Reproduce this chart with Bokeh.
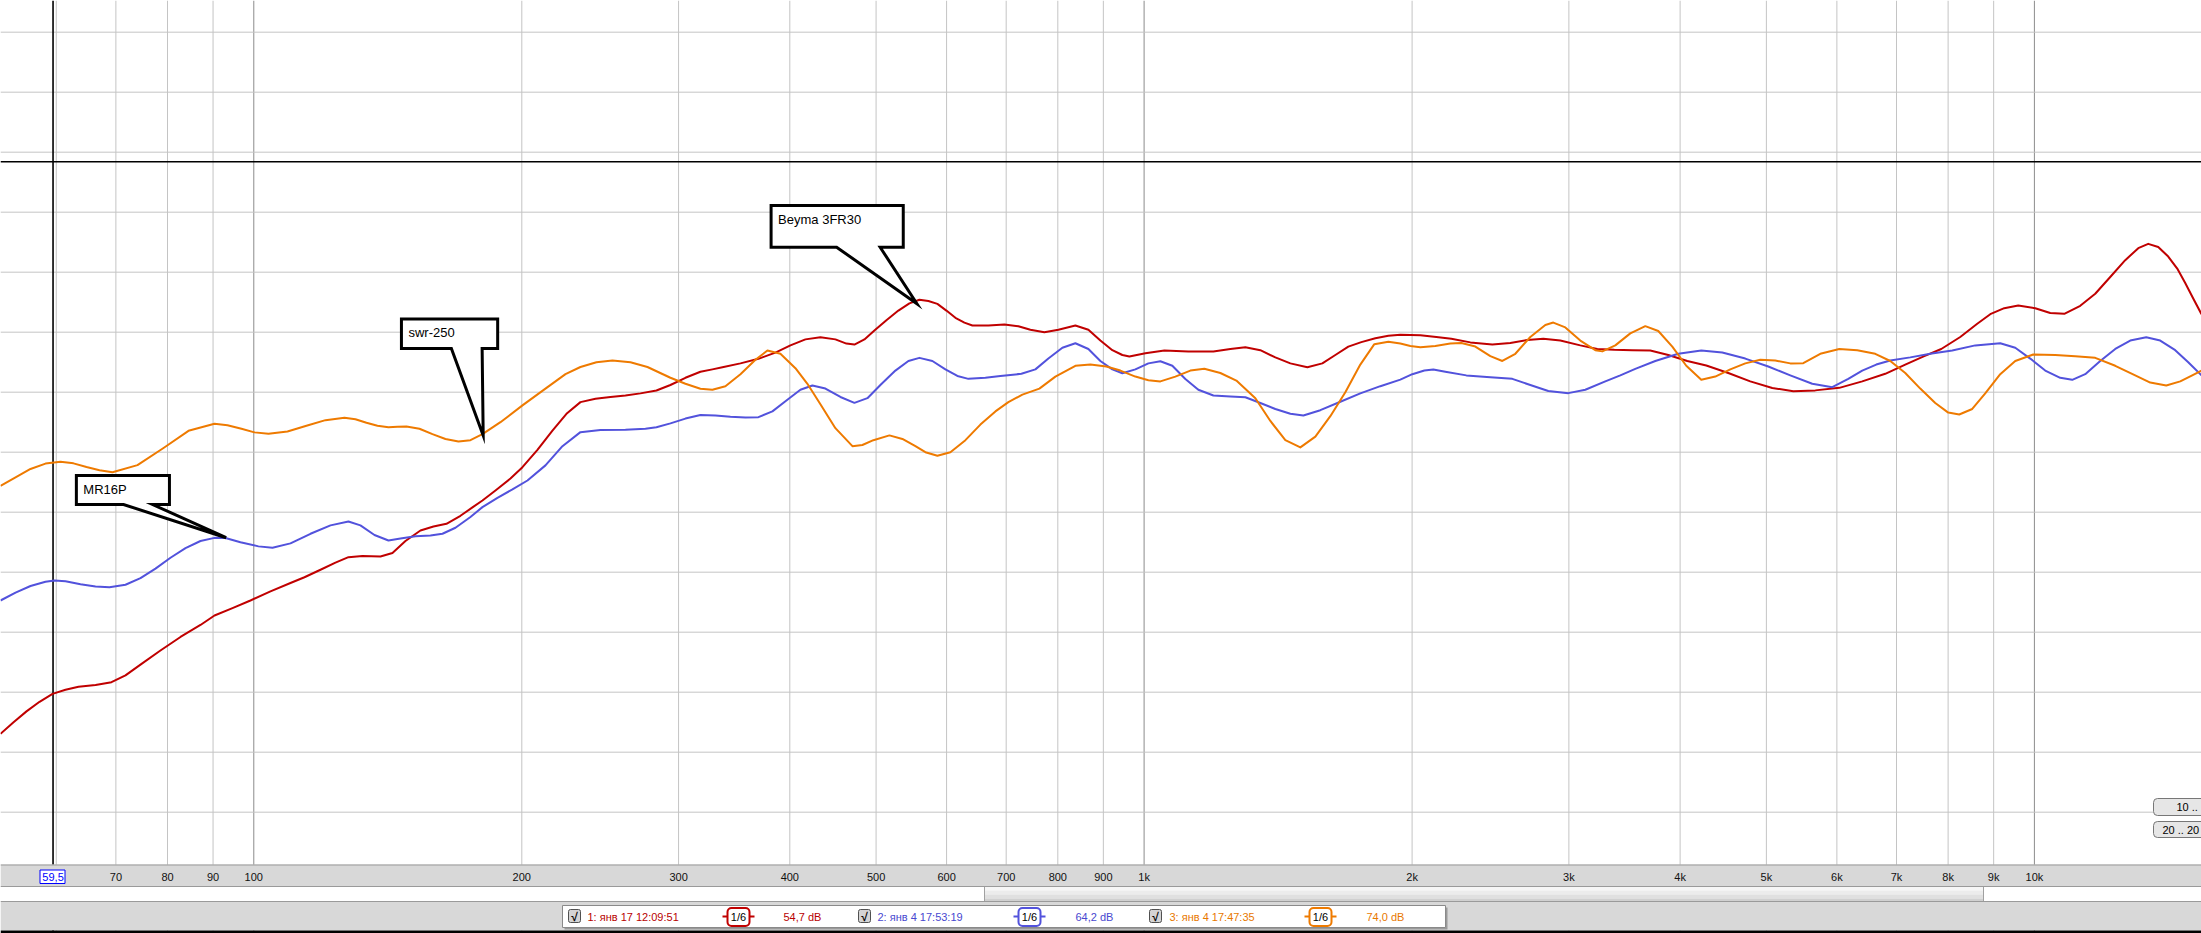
from bokeh.plotting import figure
from bokeh.models import Range1d, LinearScale, Span
from bokeh.embed import file_html
from bokeh.resources import INLINE
from bokeh.core.properties import value

# ---------------- data (frequency in Hz, level in dB) ----------------
red_f = [51.94, 53.72, 55.55, 57.46, 59.42, 61.45, 63.55, 66.41, 69.21, 71.76, 74.60, 78.55, 82.73, 87.12,
         90.34, 94.64, 99.14, 104.41, 109.95, 114.0, 118.83, 123.52, 127.74, 132.45, 138.76, 143.14, 148.03,
         153.89, 159.15, 164.59, 170.66, 176.04, 180.65, 186.83, 194.22, 200.34, 208.26, 216.50, 224.49,
         232.76, 241.97, 251.53, 261.48, 271.83, 283.30, 293.75, 305.36, 317.44, 327.44, 336.03, 352.06,
         368.81, 385.38, 400.64, 416.48, 432.95, 450.07, 463.06, 472.74, 485.14, 497.82, 513.51, 529.70,
         544.98, 559.28, 572.43, 585.91, 599.71, 613.84, 628.32, 641.42, 668.56, 696.76, 722.45, 745.22,
         772.70, 801.16, 837.17, 865.85, 893.08, 921.22, 945.37, 962.65, 1003.4, 1053.9, 1121.3, 1196.3,
         1250.0, 1299.4, 1350.8, 1404.2, 1459.8, 1525.4, 1585.7, 1639.9, 1695.9, 1753.9, 1818.6, 1880.9,
         1940.1, 2043.1, 2129.3, 2213.5, 2325.1, 2461.2, 2578.4, 2694.3, 2808.2, 2934.3, 3090.0, 3228.9,
         3374.1, 3534.7, 3703.1, 3879.7, 4074.9, 4280.1, 4530.7, 4795.9, 5076.7, 5360.2, 5674.0, 6037.4,
         6406.9, 6799.5, 7160.6, 7521.1, 7859.4, 8254.8, 8625.8, 8921.1, 9249.7, 9590.9, 10022, 10418,
         10803, 11259, 11704, 12167, 12648, 13082, 13423, 13775, 14136, 14469, 14771, 15080, 15406]
red_db = [36.53, 37.5, 38.4, 39.2, 39.86, 40.2, 40.45, 40.6, 40.83, 41.4, 42.3, 43.47, 44.6, 45.6,
          46.39, 47.0, 47.64, 48.4, 49.1, 49.58, 50.2, 50.8, 51.25, 51.35, 51.3, 51.6, 52.6,
          53.47, 53.8, 54.03, 54.7, 55.4, 55.97, 56.8, 57.8, 58.75, 60.2, 61.8, 63.2,
          64.17, 64.45, 64.6, 64.72, 64.9, 65.14, 65.6, 66.2, 66.7, 66.9, 67.08, 67.4,
          67.78, 68.3, 68.9, 69.4, 69.58, 69.4, 69.05, 68.97, 69.4, 70.14, 71.0, 71.8,
          72.4, 72.7, 72.6, 72.36, 71.8, 71.2, 70.8, 70.56, 70.55, 70.64, 70.5, 70.2,
          70.0, 70.2, 70.56, 70.2, 69.3, 68.5, 68.1, 67.97, 68.25, 68.47, 68.4, 68.39,
          68.6, 68.75, 68.5, 67.9, 67.4, 67.08, 67.4, 68.1, 68.8, 69.17, 69.5, 69.7,
          69.78, 69.75, 69.6, 69.45, 69.15, 68.97, 69.1, 69.35, 69.45, 69.3, 68.9, 68.6,
          68.53, 68.5, 68.47, 68.1, 67.6, 67.22, 66.6, 65.9, 65.35, 65.08, 65.15, 65.36,
          65.9, 66.53, 67.3, 68.0, 68.6, 69.6, 70.7, 71.5, 72.0, 72.22, 72.0, 71.6,
          71.53, 72.2, 73.2, 74.6, 76.0, 77.0, 77.36, 77.1, 76.3, 75.3, 74.1, 72.8, 71.5]

blue_f = [51.94, 54.0, 56.13, 58.35, 59.73, 61.45, 63.88, 66.41, 68.85, 71.76, 74.60, 77.55, 80.62, 83.81,
          87.12, 90.34, 92.94, 96.61, 101.21, 104.95, 109.95, 115.79, 121.94, 127.74, 131.76, 136.63, 141.67,
          146.13, 151.92, 157.92, 162.90, 168.47, 175.13, 180.65, 187.80, 195.22, 202.95, 212.62, 222.17,
          232.76, 245.11, 261.48, 275.36, 283.30, 293.75, 305.36, 317.44, 330.01, 343.05, 356.63, 368.81,
          382.40, 396.50, 411.12, 424.07, 438.58, 455.95, 472.74, 488.91, 505.61, 525.62, 543.58, 559.28,
          578.39, 598.17, 617.01, 634.83, 663.34, 689.58, 728.07, 754.90, 780.71, 809.49, 837.17, 865.85,
          893.08, 921.22, 945.37, 977.68, 1011.2, 1043.0, 1075.8, 1112.6, 1150.6, 1196.3, 1250.0, 1299.4,
          1350.8, 1404.2, 1459.8, 1509.7, 1577.5, 1661.3, 1749.3, 1842.3, 1940.1, 2001.2, 2064.3, 2112.9,
          2179.5, 2301.2, 2448.6, 2591.8, 2715.3, 2844.6, 2995.7, 3130.2, 3296.4, 3426.8, 3562.2, 3751.4,
          3981.2, 4225.1, 4461.0, 4734.4, 5024.6, 5318.8, 5629.9, 5928.8, 6179.2, 6406.9, 6643.2, 6888.4,
          7253.6, 7638.9, 8085.9, 8581.3, 9154.4, 9517.0, 9893.0, 10284, 10691, 11028, 11405, 11856,
          12326, 12813, 13354, 13846, 14394, 14887, 15406]
blue_db = [47.64, 48.3, 48.85, 49.2, 49.3, 49.25, 49.0, 48.8, 48.75, 48.95, 49.5, 50.3, 51.2, 52.0,
           52.6, 52.86, 52.85, 52.5, 52.15, 52.03, 52.4, 53.2, 53.9, 54.22, 53.9, 53.1, 52.64,
           52.8, 53.0, 53.05, 53.2, 53.7, 54.6, 55.42, 56.2, 56.9, 57.64, 58.9, 60.5,
           61.67, 61.85, 61.86, 61.95, 62.08, 62.4, 62.8, 63.1, 63.05, 62.95, 62.9, 62.92,
           63.4, 64.3, 65.2, 65.56, 65.3, 64.6, 64.11, 64.5, 65.6, 66.8, 67.6, 67.86,
           67.6, 66.9, 66.35, 66.11, 66.2, 66.35, 66.53, 66.9, 67.8, 68.7, 69.08, 68.6,
           67.6, 66.9, 66.58, 66.9, 67.4, 67.58, 67.2, 66.1, 65.2, 64.72, 64.65, 64.58,
           64.1, 63.6, 63.2, 63.06, 63.5, 64.2, 64.9, 65.5, 66.05, 66.5, 66.8, 66.89,
           66.7, 66.4, 66.25, 66.11, 65.6, 65.1, 64.92, 65.2, 65.9, 66.4, 66.94, 67.6,
           68.2, 68.47, 68.3, 67.8, 67.14, 66.4, 65.7, 65.42, 66.1, 66.8, 67.3, 67.64,
           67.9, 68.2, 68.47, 68.9, 69.08, 68.7, 67.8, 66.8, 66.2, 66.03, 66.5, 67.6,
           68.6, 69.3, 69.58, 69.3, 68.5, 67.5, 66.4]

orange_f = [51.94, 54.0, 56.13, 58.35, 60.66, 62.73, 64.88, 67.10, 69.39, 74.02, 79.18, 84.46, 90.34, 93.42,
            96.86, 100.17, 103.88, 109.10, 114.59, 120.37, 126.43, 130.07, 133.83, 137.69, 141.67, 145.0,
            148.42, 153.49, 158.74, 164.17, 169.78, 175.13, 180.65, 189.26, 200.34, 212.62, 223.92, 232.76,
            242.59, 252.83, 264.89, 276.79, 293.75, 305.36, 317.44, 327.44, 338.64, 352.06, 365.97, 377.50,
            390.40, 405.85, 418.63, 432.95, 450.07, 470.30, 482.61, 496.53, 517.55, 535.21, 553.54, 568.01,
            585.91, 605.94, 629.94, 654.83, 680.73, 703.99, 729.95, 762.79, 794.99, 837.17, 870.32, 907.05,
            940.51, 977.68, 1011.2, 1043.0, 1084.2, 1127.1, 1168.6, 1218.1, 1269.5, 1333.5, 1386.2, 1441.0,
            1498.0, 1557.3, 1618.8, 1682.8, 1749.3, 1813.9, 1880.9, 1940.1, 1990.9, 2043.1, 2123.8, 2207.8,
            2271.5, 2355.3, 2448.6, 2525.6, 2612.1, 2715.3, 2822.7, 2881.7, 2972.6, 3090.0, 3212.3, 3270.9,
            3382.9, 3516.5, 3655.6, 3780.5, 3919.9, 4064.4, 4225.1, 4381.2, 4554.3, 4734.4, 4921.5, 5116.2,
            5318.8, 5500.4, 5747.7, 6037.4, 6324.7, 6626.0, 6888.4, 7160.6, 7443.9, 7738.1, 8002.6, 8233.5,
            8515.1, 8806.0, 9154.4, 9517.0, 9969.9, 10554, 11114, 11704, 12326, 12979, 13493, 14064,
            14582, 15041, 15406]
orange_db = [57.2, 57.9, 58.6, 59.05, 59.2, 59.07, 58.77, 58.5, 58.33, 58.92, 60.35, 61.78, 62.37, 62.25,
             61.95, 61.65, 61.53, 61.73, 62.2, 62.67, 62.87, 62.75, 62.45, 62.2, 62.08, 62.12,
             62.14, 61.95, 61.5, 61.1, 60.89, 61.0, 61.5, 62.5, 63.9, 65.3, 66.5, 67.1,
             67.5, 67.64, 67.5, 67.1, 66.2, 65.7, 65.28, 65.2, 65.5, 66.5, 67.7, 68.47,
             68.2, 67.0, 65.7, 64.0, 62.0, 60.5, 60.6, 61.0, 61.4, 61.1, 60.5, 60.0,
             59.7, 60.0, 61.0, 62.3, 63.4, 64.17, 64.8, 65.3, 66.3, 67.2, 67.3, 67.14,
             66.8, 66.3, 66.0, 65.9, 66.3, 66.8, 66.95, 66.6, 65.97, 64.5, 62.6, 61.0,
             60.4, 61.3, 63.0, 65.0, 67.3, 69.0, 69.2, 69.05, 68.85, 68.75, 68.85, 69.05,
             69.1, 68.8, 68.0, 67.6, 68.2, 69.6, 70.6, 70.8, 70.4, 69.3, 68.5, 68.4,
             68.9, 69.9, 70.5, 70.1, 68.8, 67.2, 66.03, 66.3, 66.9, 67.4, 67.7, 67.64,
             67.4, 67.42, 68.2, 68.6, 68.5, 68.2, 67.6, 66.6, 65.3, 64.1, 63.3, 63.14,
             63.6, 64.9, 66.5, 67.6, 68.14, 68.1, 68.0, 67.86, 67.2, 66.4, 65.8, 65.56,
             65.9, 66.4, 66.8]

series_names = ["1: янв 17 12:09:51", "2: янв 4 17:53:19", "3: янв 4 17:47:35"]
series_levels = ["54,7 dB", "64,2 dB", "74,0 dB"]
smoothing = ["1/6", "1/6", "1/6"]

tick_f = [70, 80, 90, 100, 200, 300, 400, 500, 600, 700, 800, 900,
          1000, 2000, 3000, 4000, 5000, 6000, 7000, 8000, 9000, 10000]
tick_labels = ["70", "80", "90", "100", "200", "300", "400", "500", "600", "700", "800", "900",
               "1k", "2k", "3k", "4k", "5k", "6k", "7k", "8k", "9k", "10k"]
grid_f = [60, 70, 80, 90, 200, 300, 400, 500, 600, 700, 800, 900,
          2000, 3000, 4000, 5000, 6000, 7000, 8000, 9000]
decade_f = [100, 1000, 10000]
grid_db = [30, 35, 40, 45, 50, 55, 60, 65, 70, 75, 80, 85, 90, 95]
ref_db = 84.2
cursor_f = 59.5
cursor_label = "59,5"

# callouts: box (left f, right f, top dB, bottom dB), pointer base (f, f), tip (f, dB)
callout_text = ["Beyma 3FR30", "swr-250", "MR16P"]
callout_left = [381.1, 146.5, 63.2]
callout_right = [536.4, 187.9, 80.4]
callout_top = [80.56, 71.09, 58.06]
callout_bottom = [77.08, 68.64, 55.64]
callout_base_l = [451.5, 166.7, 71.4]
callout_base_r = [505.3, 180.5, 76.98]
callout_tip_f = [555.7, 181.0, 93.1]
callout_tip_db = [72.37, 61.39, 52.87]

# ---------------- style ----------------
W, H = 2201, 933
F_LEFT, F_RIGHT = 51.94, 15406
DB_TOP, DB_BOTTOM = 97.64, 19.89
RED, BLUE, ORANGE = "#c00000", "#5252dc", "#ee7a00"
TXT_COLORS = ["#b80000", "#4848d0", "#e87800"]
FONT = value("Liberation Sans")

p = figure(width=W, height=H, x_axis_type="log",
           x_range=Range1d(F_LEFT, F_RIGHT), y_range=Range1d(DB_BOTTOM, DB_TOP),
           output_backend="svg", toolbar_location=None,
           x_axis_location=None, y_axis_location=None, min_border=0,
           outline_line_color=None, background_fill_color="white", border_fill_color="white")
p.extra_x_ranges = {"px": Range1d(0, W)}
p.extra_x_scales = {"px": LinearScale()}
p.extra_y_ranges = {"px": Range1d(H, 0)}
p.grid.visible = False

for f in grid_f:
    p.add_layout(Span(location=f, dimension="height", line_color="#c4c4c4", line_width=1, level="underlay"))
for f in decade_f:
    p.add_layout(Span(location=f, dimension="height", line_color="#8c8c8c", line_width=1, level="underlay"))
for d in grid_db:
    p.add_layout(Span(location=d, dimension="width", line_color="#c4c4c4", line_width=1, level="underlay"))
p.add_layout(Span(location=ref_db, dimension="width", line_color="black", line_width=1.5, level="underlay"))
p.add_layout(Span(location=cursor_f, dimension="height", line_color="black", line_width=1.6, level="underlay"))

# curves
p.line(red_f, red_db, line_color=RED, line_width=2, line_join="round")
p.line(blue_f, blue_db, line_color=BLUE, line_width=2, line_join="round")
p.line(orange_f, orange_db, line_color=ORANGE, line_width=2, line_join="round")

# callouts
xs, ys = [], []
for i in range(len(callout_text)):
    xs.append([callout_left[i], callout_right[i], callout_right[i], callout_base_r[i], callout_tip_f[i],
               callout_base_l[i], callout_left[i]])
    ys.append([callout_top[i], callout_top[i], callout_bottom[i], callout_bottom[i], callout_tip_db[i],
               callout_bottom[i], callout_bottom[i]])
p.patches(xs, ys, fill_color="white", line_color="black", line_width=3, line_join="miter")
p.text(x=callout_left, y=[t - 1.15 for t in callout_top], text=callout_text, x_offset=7,
       text_font=FONT, text_font_size="13px", text_baseline="middle", text_color="black")

# ---------------- bottom chrome (pixel space) ----------------
def pquad(l, r, t, b, **kw):
    p.quad(left=[l], right=[r], top=[t], bottom=[b], x_range_name="px", y_range_name="px", **kw)

pquad(0, W, 864, 886, fill_color="#d8d8d8", line_color=None)
pquad(0, W, 886, 901, fill_color="white", line_color=None)
pquad(0, W, 901, 930, fill_color="#d8d8d8", line_color=None)
pquad(0, W, 930, H, fill_color="black", line_color=None)
for (t, b, c) in [(886, 890, "#f6f6f6"), (890, 894, "#ececec"), (894, 898, "#e0e0e0"), (898, 901, "#d0d0d0")]:
    pquad(984, 1983, t, b, fill_color=c, line_color=None)
p.segment(x0=[984, 1983], x1=[984, 1983], y0=[886, 886], y1=[901, 901], line_color="#a0a0a0",
          x_range_name="px", y_range_name="px")
p.segment(x0=[0, 0, 0], x1=[W, W, W], y0=[864.5, 886, 901], y1=[864.5, 886, 901],
          line_color="#9a9a9a", line_width=1, x_range_name="px", y_range_name="px")

# tick labels through the log frequency scale
p.text(x=tick_f, y=[876] * len(tick_f), text=tick_labels, y_range_name="px",
       text_font=FONT, text_font_size="11px", text_align="center", text_baseline="middle", text_color="#111111")
pquad(39.5, 64.5, 869.5, 883, fill_color="white", line_color="#0000ff", line_width=1)
p.text(x=[cursor_f], y=[876], text=[cursor_label], y_range_name="px",
       text_font=FONT, text_font_size="11px", text_align="center", text_baseline="middle", text_color="#0000ff")

# legend box
pquad(564, 1447, 907, 929, fill_color="#9a9a9a", line_color=None)
pquad(562, 1445, 905, 927, fill_color="white", line_color="#8a8a8a", line_width=1)
cb_x = [574, 864, 1155]
name_x = [587, 877, 1169]
icon_x = [738, 1029, 1320]
lvl_x = [783, 1075, 1366]
series_colors = [RED, BLUE, ORANGE]
for i in range(3):
    pquad(cb_x[i] - 6, cb_x[i] + 6, 909, 922, fill_color="#d4d4d4", line_color="#505050", line_width=1,
          border_radius=2)
    p.segment(x0=[icon_x[i] - 16], x1=[icon_x[i] + 16], y0=[916], y1=[916], line_color=series_colors[i],
              line_width=2, x_range_name="px", y_range_name="px")
    pquad(icon_x[i] - 11, icon_x[i] + 11, 907.5, 925.5, fill_color="white", line_color=series_colors[i],
          line_width=2, border_radius=4)
p.text(x=cb_x, y=[916] * 3, text=["√"] * 3, x_range_name="px", y_range_name="px",
       text_font=FONT, text_font_size="12px", text_font_style="bold", text_align="center", text_baseline="middle",
       text_color="black")
p.text(x=name_x, y=[916] * 3, text=series_names, x_range_name="px", y_range_name="px",
       text_font=FONT, text_font_size="11px", text_baseline="middle", text_color=TXT_COLORS)
p.text(x=icon_x, y=[916] * 3, text=smoothing, x_range_name="px", y_range_name="px",
       text_font=FONT, text_font_size="11px", text_align="center", text_baseline="middle", text_color="black")
p.text(x=lvl_x, y=[916] * 3, text=series_levels, x_range_name="px", y_range_name="px",
       text_font=FONT, text_font_size="11px", text_baseline="middle", text_color=TXT_COLORS)

# right-side buttons
pquad(2153, 2215, 798, 815, fill_color="#e6e6e6", line_color="#777777", line_width=1, border_radius=4)
pquad(2153, 2215, 821, 837, fill_color="#e6e6e6", line_color="#777777", line_width=1, border_radius=4)
p.text(x=[2176, 2162], y=[806.5, 829], text=["10 ..", "20 .. 20"], x_range_name="px", y_range_name="px",
       text_font=FONT, text_font_size="11px", text_baseline="middle", text_color="black")

open("out.html", "w").write(file_html(p, INLINE))
